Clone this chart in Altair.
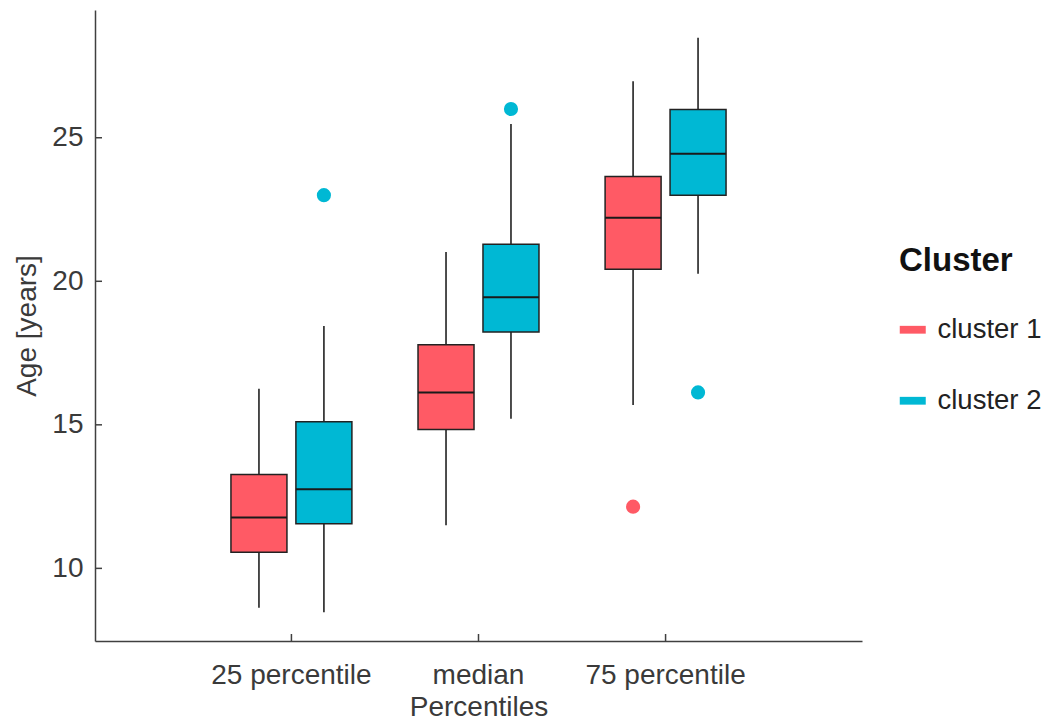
import altair as alt
import pandas as pd

# ---- data ----
percentiles = ["25 percentile", "median", "75 percentile"]
clusters = ["cluster 1", "cluster 2"]

box_pct = ["25 percentile", "25 percentile", "median", "median", "75 percentile", "75 percentile"]
box_cluster = ["cluster 1", "cluster 2", "cluster 1", "cluster 2", "cluster 1", "cluster 2"]
whisk_low = [8.63, 8.47, 11.50, 15.21, 15.69, 20.26]
q1 = [10.56, 11.55, 14.84, 18.23, 20.42, 23.00]
median = [11.77, 12.76, 16.13, 19.44, 22.21, 24.44]
q3 = [13.27, 15.11, 17.79, 21.29, 23.65, 25.98]
whisk_high = [16.26, 18.44, 21.02, 25.48, 26.97, 28.48]

out_pct = ["25 percentile", "median", "75 percentile", "75 percentile"]
out_cluster = ["cluster 2", "cluster 2", "cluster 1", "cluster 2"]
out_value = [23.0, 26.0, 12.15, 16.13]

y_ticks = [10, 15, 20, 25]
colors = ["#FF5A65", "#00B8D4"]

boxes = pd.DataFrame({
    "pct": box_pct, "cluster": box_cluster, "lo": whisk_low,
    "q1": q1, "med": median, "q3": q3, "hi": whisk_high,
})
outliers = pd.DataFrame({"pct": out_pct, "cluster": out_cluster, "v": out_value})
yt = pd.DataFrame({"t": y_ticks})
xt = pd.DataFrame({"pct": percentiles})

FONT = "Liberation Sans"
W, H = 767, 631

x_scale = alt.Scale(domain=percentiles, paddingInner=0, paddingOuter=0.55)
xo_scale = alt.Scale(domain=clusters, paddingInner=0, paddingOuter=0.44)
y_scale = alt.Scale(domain=[7.47, 29.45], nice=False, zero=False)
c_scale = alt.Scale(domain=clusters, range=colors)

x_enc = alt.X("pct:N", scale=x_scale, sort=percentiles,
              axis=alt.Axis(title="Percentiles", labelAngle=0, ticks=False,
                            labelPadding=20, titlePadding=4))
xo_enc = alt.XOffset("cluster:N", scale=xo_scale, sort=clusters)
y_axis = alt.Axis(title="Age [years]", values=y_ticks, ticks=False, grid=False,
                  labelPadding=12, titlePadding=10)

whiskers = alt.Chart(boxes).mark_rule(color="#3a3a3a", strokeWidth=1.8).encode(
    x=x_enc, xOffset=xo_enc,
    y=alt.Y("lo:Q", scale=y_scale, axis=y_axis), y2="hi:Q",
)

bars = alt.Chart(boxes).mark_bar(size=56, stroke="#222222", strokeWidth=1.5).encode(
    x=x_enc, xOffset=xo_enc,
    y=alt.Y("q1:Q", scale=y_scale), y2="q3:Q",
    color=alt.Color("cluster:N", scale=c_scale, title="Cluster",
                    legend=alt.Legend(
                        orient="none", legendX=804, legendY=235, padding=0,
                        symbolType="M-1,-0.3H1V0.3H-1Z", symbolSize=676,
                        symbolStrokeWidth=0, symbolOpacity=1,
                        labelFont=FONT, labelFontSize=27.5, labelColor="#222222",
                        labelOffset=11, rowPadding=42,
                        titleFont=FONT, titleFontSize=33, titleFontWeight="bold",
                        titleColor="#111111", titlePadding=38)),
)

med_ticks = alt.Chart(boxes).mark_tick(size=56, thickness=2, color="#1a1a1a", opacity=1).encode(
    x=x_enc, xOffset=xo_enc,
    y=alt.Y("med:Q", scale=y_scale),
)

points = alt.Chart(outliers).mark_circle(size=200, opacity=1).encode(
    x=x_enc, xOffset=xo_enc,
    y=alt.Y("v:Q", scale=y_scale),
    color=alt.Color("cluster:N", scale=c_scale, legend=None),
)

y_tick_marks = alt.Chart(yt).mark_rule(color="#404040", strokeWidth=1.5).encode(
    y=alt.Y("t:Q", scale=y_scale), x=alt.value(0), x2=alt.value(7),
)
x_tick_marks = alt.Chart(xt).mark_rule(color="#404040", strokeWidth=1.5).encode(
    x=alt.X("pct:N", scale=x_scale, sort=percentiles), y=alt.value(H - 7), y2=alt.value(H),
)

chart = alt.layer(whiskers, bars, med_ticks, points, y_tick_marks, x_tick_marks).properties(
    width=W, height=H,
    autosize=alt.AutoSizeParams(type="none"),
    padding={"left": 87, "top": 2, "right": 181, "bottom": 81},
).configure_view(stroke=None).configure_axis(
    labelFont=FONT, titleFont=FONT, labelFontSize=28, titleFontSize=28,
    labelColor="#3a3a3a", titleColor="#3a3a3a", titleFontWeight="normal",
    domainColor="#404040", domainWidth=1.5, grid=False,
)

chart.save("out.html", embed_options={"renderer": "svg", "actions": False})
